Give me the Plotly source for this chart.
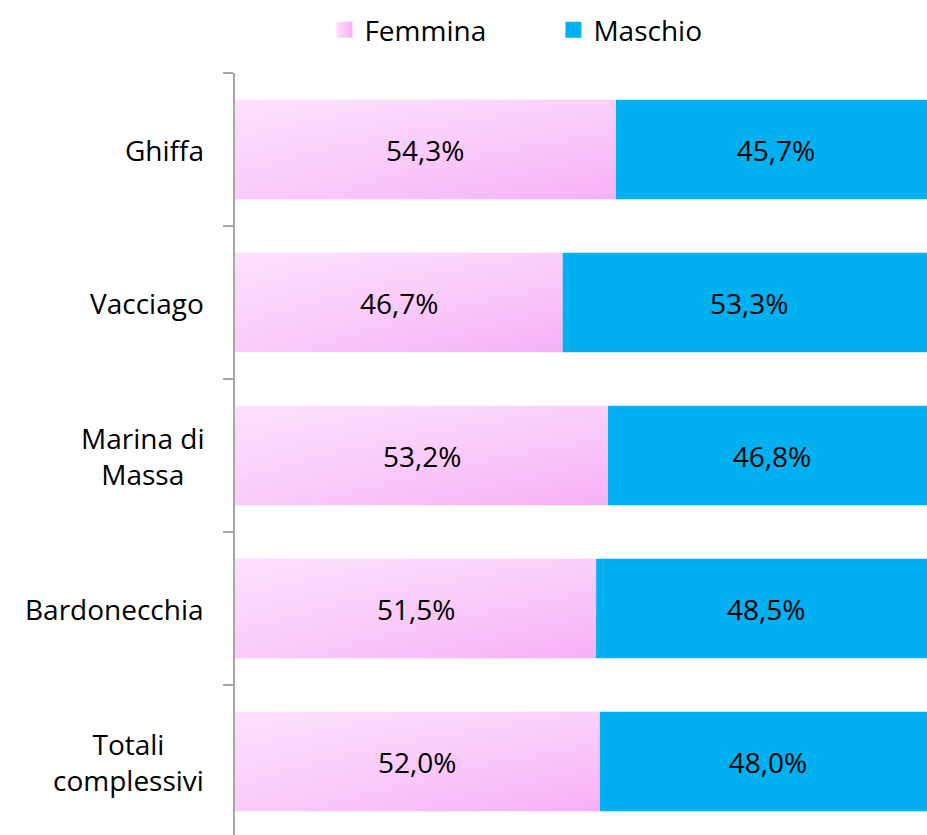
import plotly.graph_objects as go

# Quota per sesso per località (percentuali)
localita = ["Ghiffa", "Vacciago", "Marina di<br>Massa", "Bardonecchia", "Totali<br>complessivi"]
femmina = [54.3, 46.7, 53.2, 51.5, 52.0]
maschio = [45.7, 53.3, 46.8, 48.5, 48.0]

FONT = "Open Sans"
ROSA_CHIARO = "#FACCFA"
ROSA_SCURO = "#F7B0F7"
BLU = "#00B0F0"
BARGAP = 0.35
idx = list(range(len(localita)))
half = (1 - BARGAP) / 2


def pct(v):
    return f"{v:.1f}%".replace(".", ",")


fig = go.Figure()

# Maschio: stacked after the Femmina share
fig.add_trace(go.Bar(
    y=idx, x=maschio, base=femmina, orientation="h", name="Maschio",
    marker=dict(color=BLU, line=dict(width=0)),
    texttemplate="%{x:.1f}%", textposition="inside", insidetextanchor="middle",
    textfont=dict(family=FONT, size=28, color="black"),
    showlegend=False, hoverinfo="skip",
))

# Femmina: gradient-filled bars (horizontal pink ramp + white sheen towards the top)
for i, v in enumerate(femmina):
    xs = [0, v, v, 0, 0]
    ys = [i - half, i - half, i + half, i + half, i - half]
    fig.add_trace(go.Scatter(
        x=xs, y=ys, mode="lines", fill="toself", line=dict(width=0),
        fillgradient=dict(type="horizontal",
                          colorscale=[[0, ROSA_CHIARO], [1, ROSA_SCURO]]),
        showlegend=False, hoverinfo="skip",
    ))
    fig.add_trace(go.Scatter(
        x=xs, y=ys, mode="lines", fill="toself", line=dict(width=0),
        fillgradient=dict(type="vertical",
                          colorscale=[[0, "rgba(255,255,255,0)"],
                                      [1, "rgba(255,255,255,0.42)"]]),
        showlegend=False, hoverinfo="skip",
    ))
    # value label in the middle of the bar
    fig.add_annotation(
        x=v / 2, y=i, xref="x", yref="y", text=pct(v), showarrow=False,
        xanchor="center", yanchor="middle",
        font=dict(family=FONT, size=28, color="black"),
    )

# legend entries with square swatches
fig.add_trace(go.Scatter(
    x=[None], y=[None], mode="markers", name="Femmina",
    marker=dict(symbol="square", size=18, color="#FCE0FC",
                gradient=dict(type="horizontal", color=ROSA_SCURO)),
))
fig.add_trace(go.Scatter(
    x=[None], y=[None], mode="markers", name="Maschio",
    marker=dict(symbol="square", size=18, color=BLU),
))

# category labels, centred line by line
for i, lab in enumerate(localita):
    fig.add_annotation(
        x=0, xref="paper", y=i, yref="y", text=lab, showarrow=False,
        xanchor="right", yanchor="middle", align="center", xshift=-29,
        font=dict(family=FONT, size=28, color="black"),
    )

fig.update_layout(
    width=927, height=835,
    margin=dict(l=235, r=0, t=73, b=0),
    barmode="overlay", bargap=BARGAP,
    separators=",.",
    paper_bgcolor="white", plot_bgcolor="white",
    font=dict(family=FONT, size=28, color="black"),
    legend=dict(
        orientation="h", xref="container", yref="container",
        x=0.597, xanchor="center", y=1 - 30 / 835, yanchor="middle",
        font=dict(family=FONT, size=28, color="black"),
        entrywidth=184, itemclick=False, traceorder="normal",
    ),
    xaxis=dict(range=[0, 98.7], visible=False, fixedrange=True),
    yaxis=dict(
        range=[4.48, -0.5], tickmode="array",
        tickvals=[-0.5, 0.5, 1.5, 2.5, 3.5, 4.5], ticktext=[""] * 6,
        ticks="outside", ticklen=10, tickwidth=2, tickcolor="#A6A6A6",
        showline=True, linecolor="#A6A6A6", linewidth=2,
        showgrid=False, zeroline=False, fixedrange=True,
    ),
)

fig.write_html("out.html")
